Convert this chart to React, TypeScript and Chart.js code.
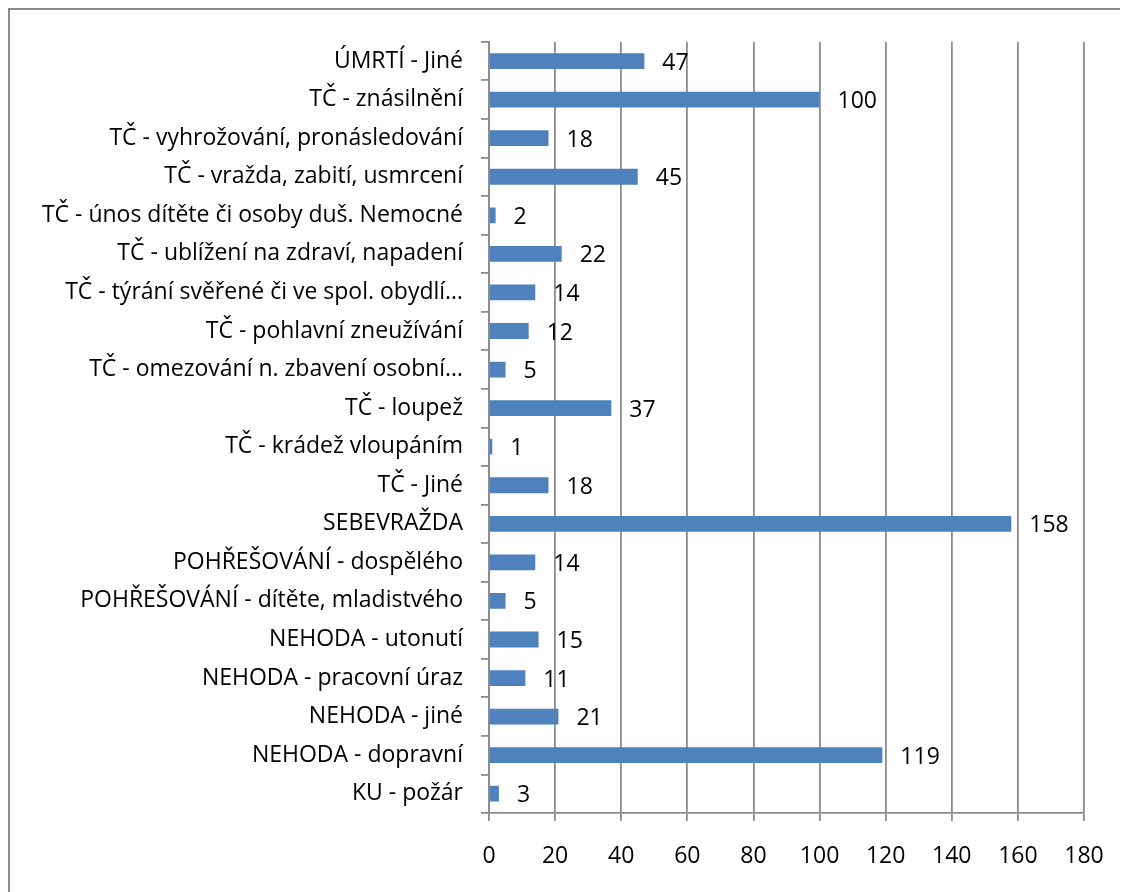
import React, { useEffect, useRef } from "react";
import { Chart, registerables } from "chart.js";

Chart.register(...registerables);

const categories: string[] = [
  "ÚMRTÍ - Jiné",
  "TČ - znásilnění",
  "TČ - vyhrožování, pronásledování",
  "TČ - vražda, zabití, usmrcení",
  "TČ - únos dítěte či osoby duš. Nemocné",
  "TČ - ublížení na zdraví, napadení",
  "TČ - týrání svěřené či ve spol. obydlí…",
  "TČ - pohlavní zneužívání",
  "TČ - omezování n. zbavení osobní…",
  "TČ - loupež",
  "TČ - krádež vloupáním",
  "TČ - Jiné",
  "SEBEVRAŽDA",
  "POHŘEŠOVÁNÍ - dospělého",
  "POHŘEŠOVÁNÍ - dítěte, mladistvého",
  "NEHODA - utonutí",
  "NEHODA - pracovní úraz",
  "NEHODA - jiné",
  "NEHODA - dopravní",
  "KU - požár",
];

const values: number[] = [47, 100, 18, 45, 2, 22, 14, 12, 5, 37, 1, 18, 158, 14, 5, 15, 11, 21, 119, 3];

const xMin = 0;
const xMax = 180;
const xStep = 20;

const FONT = "'Open Sans', 'Noto Sans', sans-serif";
const FONT_SIZE = 23;
const GRID = "#8c8c8c";

const valueLabels = {
  id: "valueLabels",
  afterDatasetsDraw(chart: any) {
    const ctx = chart.ctx;
    const meta = chart.getDatasetMeta(0);
    ctx.save();
    ctx.font = `${FONT_SIZE}px ${FONT}`;
    ctx.fillStyle = "#000";
    ctx.textAlign = "left";
    ctx.textBaseline = "middle";
    meta.data.forEach((bar: any, i: number) => {
      ctx.fillText(String(values[i]), bar.x + 18, bar.y + 2);
    });
    ctx.restore();
  },
};

export default function App() {
  const ref = useRef<HTMLCanvasElement>(null);
  useEffect(() => {
    document.documentElement.style.overflow = "hidden";
    document.body.style.overflow = "hidden";
    const chart = new Chart(ref.current!, {
      type: "bar",
      data: {
        labels: categories,
        datasets: [
          {
            data: values,
            backgroundColor: "#4f81bd",
            borderWidth: 0,
            categoryPercentage: 1,
            barPercentage: 0.41,
          },
        ],
      },
      options: {
        indexAxis: "y",
        animation: false,
        responsive: false,
        maintainAspectRatio: false,
        layout: { padding: { top: 31, right: 44, bottom: 0, left: 0 } },
        plugins: { legend: { display: false }, tooltip: { enabled: false } },
        scales: {
          x: {
            min: xMin,
            max: xMax,
            ticks: {
              stepSize: xStep,
              color: "#000",
              font: { family: FONT, size: FONT_SIZE },
              padding: 22,
              maxRotation: 0,
            },
            grid: { color: GRID, lineWidth: 1.8, tickLength: 8, drawTicks: true },
            border: { display: true, color: GRID, width: 1.8 },
            afterFit(scale: any) {
              scale.height = 79;
            },
          },
          y: {
            ticks: {
              color: "#000",
              font: { family: FONT, size: FONT_SIZE },
              padding: 18,
              autoSkip: false,
            },
            grid: {
              offset: true,
              drawOnChartArea: false,
              drawTicks: true,
              tickLength: 8,
              color: GRID,
              lineWidth: 1.8,
            },
            border: { display: true, color: GRID, width: 1.8 },
            afterFit(scale: any) {
              scale.width = 479;
            },
          },
        },
      },
      plugins: [valueLabels],
    });
    return () => chart.destroy();
  }, []);
  return (
    <div
      style={{
        width: 1120,
        height: 884,
        boxSizing: "border-box",
        borderTop: "2px solid #8a8a8a",
        borderLeft: "2px solid #8a8a8a",
        background: "#fff",
      }}
    >
      <canvas ref={ref} width={1118} height={882} style={{ display: "block", width: 1118, height: 882 }} />
    </div>
  );
}
